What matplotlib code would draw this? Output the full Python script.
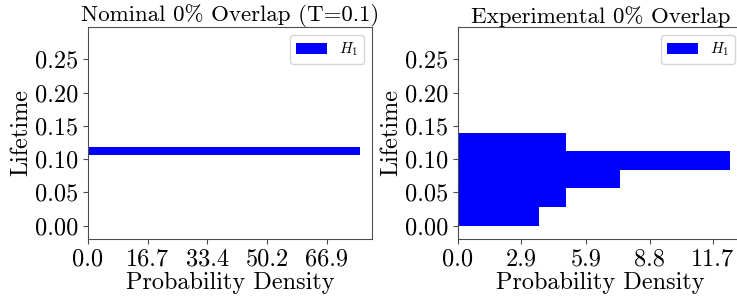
import matplotlib
matplotlib.use("Agg")
import matplotlib.pyplot as plt

plt.rcParams['font.family'] = 'cmr10'
plt.rcParams['mathtext.fontset'] = 'cm'
plt.rcParams['axes.unicode_minus'] = False
plt.rcParams['axes.formatter.use_mathtext'] = True
plt.rcParams['axes.edgecolor'] = '0.3'
plt.rcParams['xtick.color'] = '0.3'
plt.rcParams['ytick.color'] = '0.3'
plt.rcParams['xtick.labelcolor'] = 'black'
plt.rcParams['ytick.labelcolor'] = 'black'

# nominal histogram (single bin)
nom_bottoms = [0.1057]
nom_height = 0.0125
nom_density = [76.1]
nom_xticks = [0.0, 16.7, 33.4, 50.2, 66.9]

# experimental histogram
exp_bottoms = [0.0, 0.028, 0.056, 0.084, 0.112]
exp_height = 0.028
exp_density = [3.74, 4.98, 7.46, 12.47, 4.98]
exp_xticks = [0.0, 2.9, 5.9, 8.8, 11.7]

yticks = [0.0, 0.05, 0.10, 0.15, 0.20, 0.25]

fs = 17.5

fig = plt.figure(figsize=(7.37, 3.02), dpi=100)
W, H = 737.0, 302.0
ax1 = fig.add_axes([88 / W, 1 - 239 / H, (372 - 88) / W, (239 - 27) / H])
ax2 = fig.add_axes([458 / W, 1 - 239 / H, (743 - 458) / W, (239 - 27) / H])

panels = [
    (ax1, nom_bottoms, nom_density, nom_height, nom_xticks, 79.6, 'Nominal 0% Overlap (T=0.1)'),
    (ax2, exp_bottoms, exp_density, exp_height, exp_xticks, 13.09, 'Experimental 0% Overlap'),
]

for ax, bottoms, dens, h, xt, xmax, title in panels:
    ax.barh(bottoms, dens, height=h, align='edge', color='blue', label='$H_1$')
    ax.set_xlim(0, xmax)
    ax.set_ylim(-0.02, 0.2985)
    ax.set_xticks(xt)
    ax.set_xticklabels(['%.1f' % v for v in xt], fontsize=fs)
    ax.set_yticks(yticks)
    ax.set_yticklabels(['%.2f' % v for v in yticks], fontsize=fs)
    ax.set_xlabel('Probability Density', fontsize=fs, labelpad=1)
    ax.set_ylabel('Lifetime', fontsize=fs, labelpad=2)
    ax.set_title(title, fontsize=16.5, pad=3)
    ax.legend(loc='upper right', fontsize=11)

fig.savefig('out.png', dpi=100)
